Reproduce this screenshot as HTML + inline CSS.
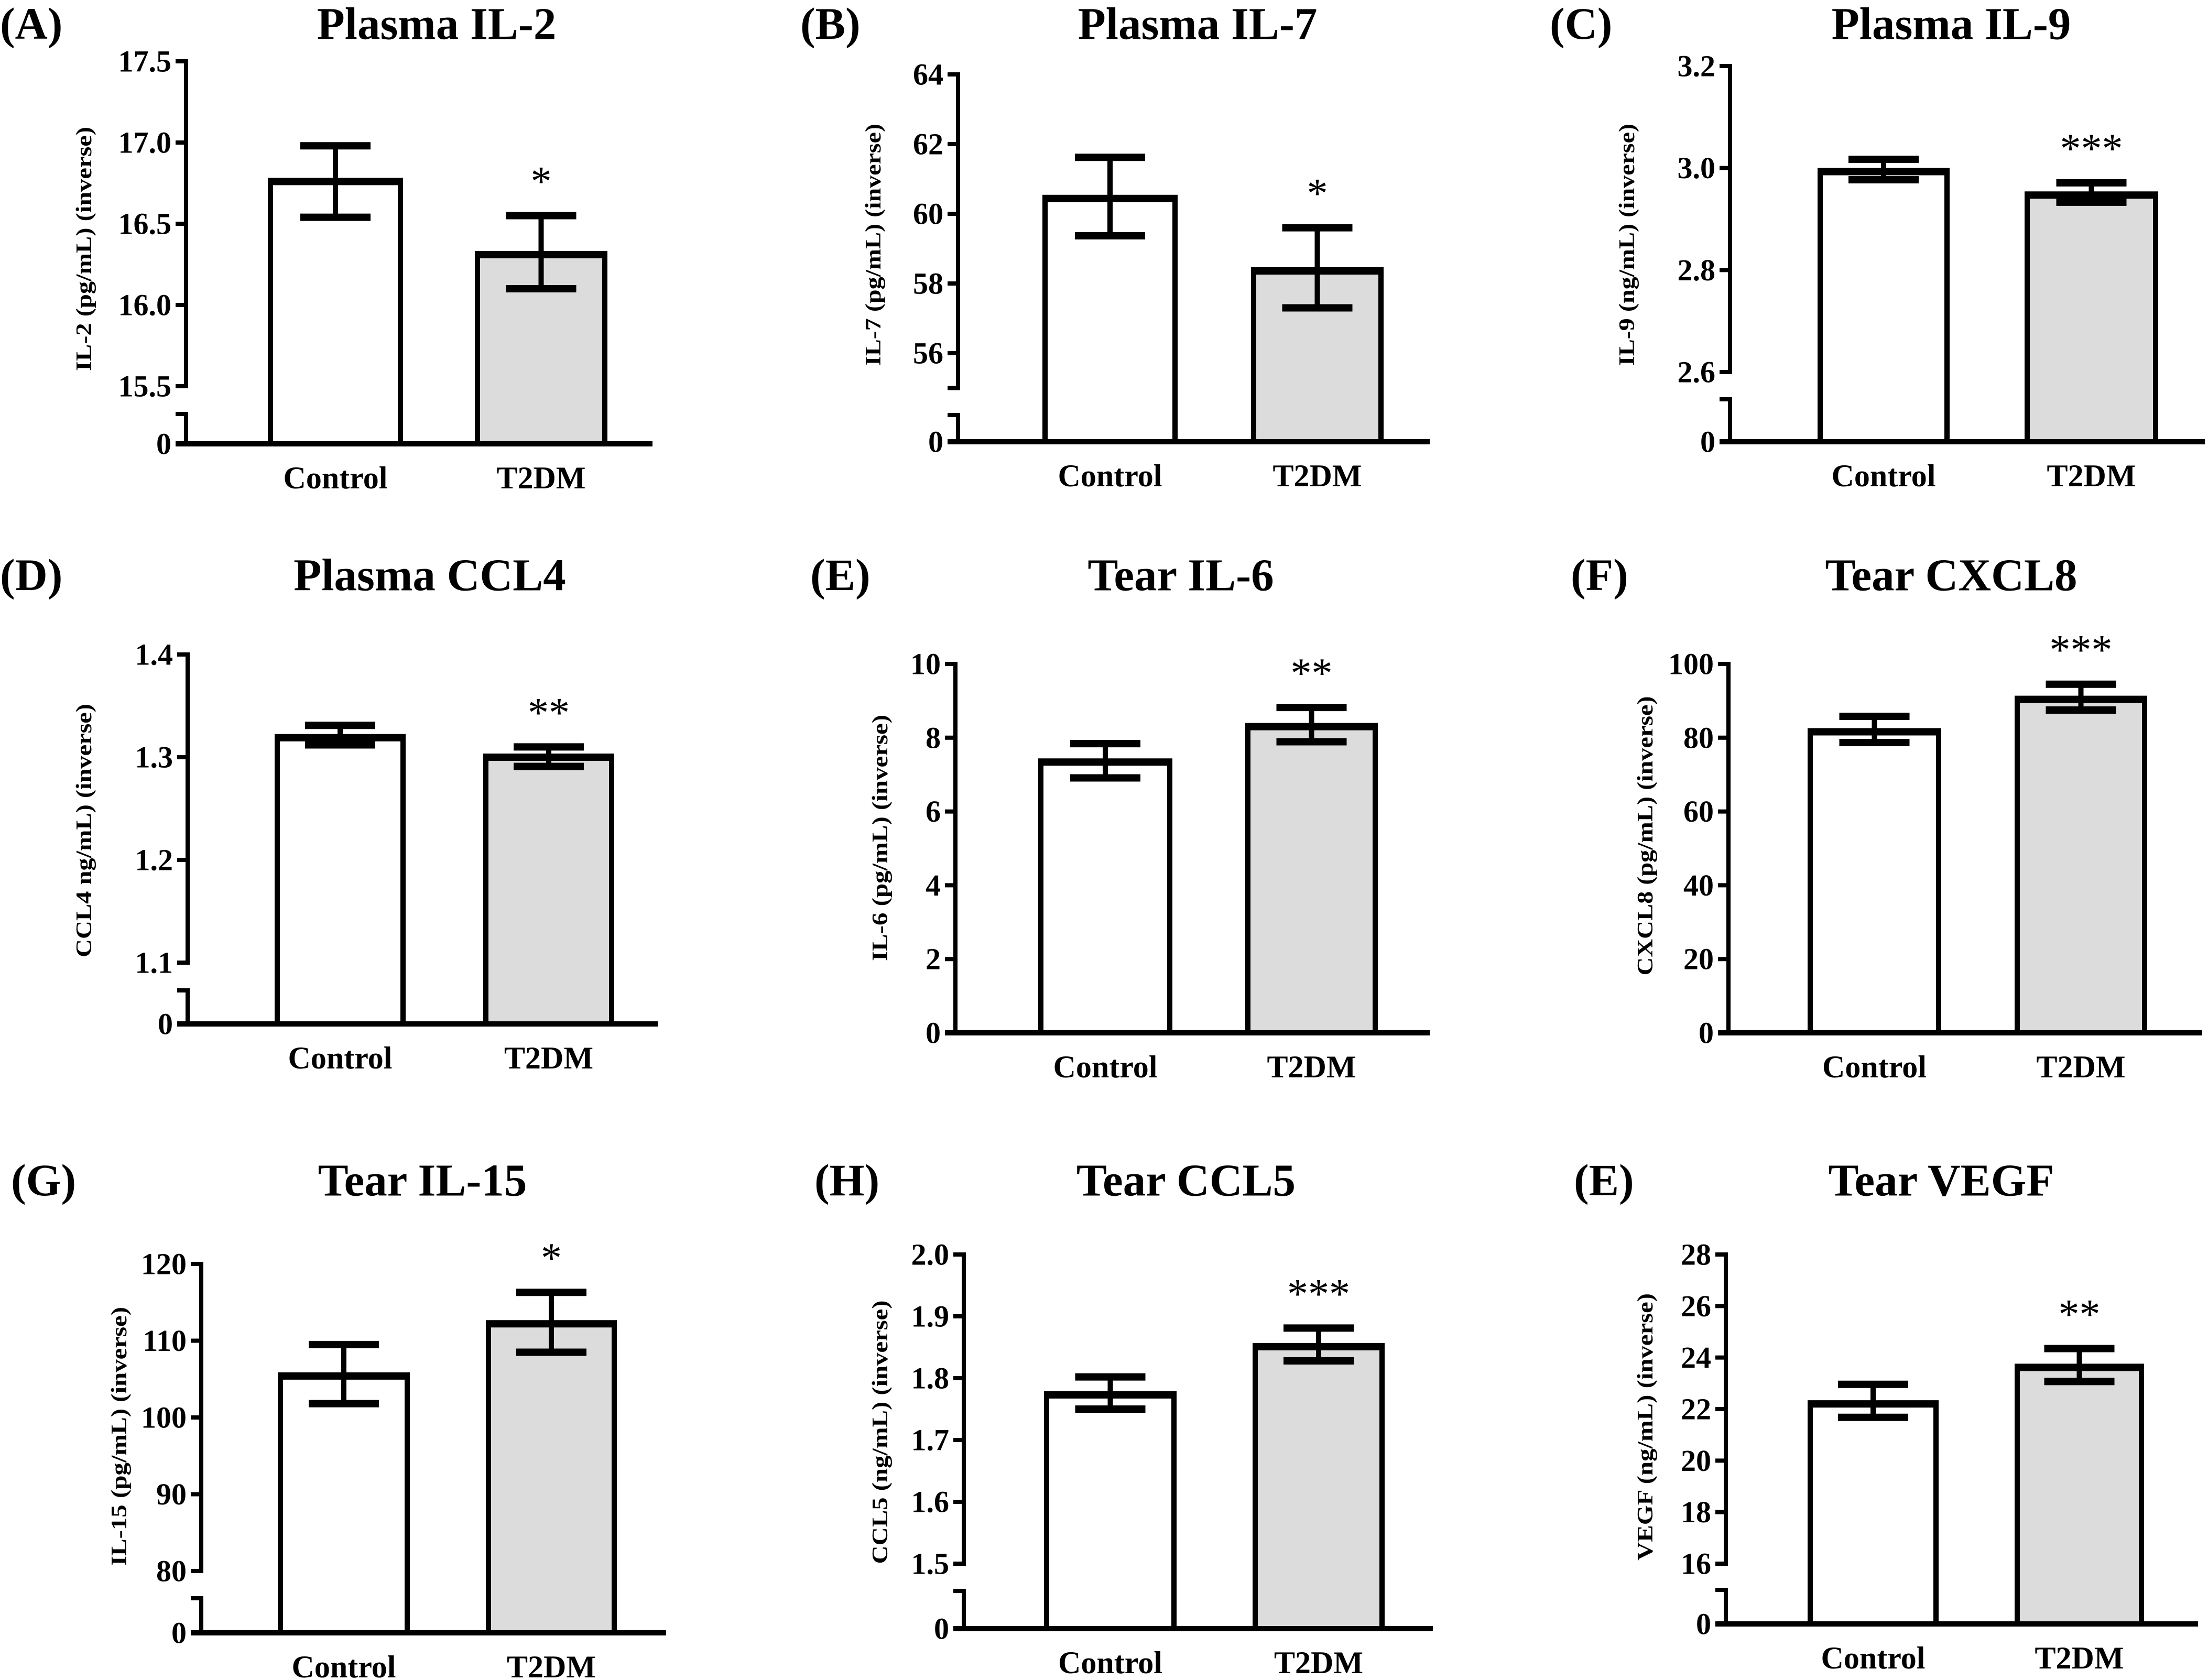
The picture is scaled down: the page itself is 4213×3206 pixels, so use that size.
<!DOCTYPE html>
<html><head><meta charset="utf-8"><style>
html,body{margin:0;padding:0;background:#fff}
svg{display:block}
text{font-family:"Liberation Serif",serif;font-weight:bold;fill:#000}
</style></head><body>
<svg id="fig" width="4213" height="3206" viewBox="0 0 4213 3206" xmlns="http://www.w3.org/2000/svg"></svg>
<script>
const categories = ["Control", "T2DM"];
const panelTags = ["(A)","(B)","(C)","(D)","(E)","(F)","(G)","(H)","(E)"];
const panelTitles = ["Plasma IL-2","Plasma IL-7","Plasma IL-9","Plasma CCL4","Tear IL-6","Tear CXCL8","Tear IL-15","Tear CCL5","Tear VEGF"];
const yTitles = ["IL-2 (pg/mL) (inverse)","IL-7 (pg/mL) (inverse)","IL-9 (ng/mL) (inverse)","CCL4 ng/mL) (inverse)","IL-6 (pg/mL) (inverse)","CXCL8 (pg/mL) (inverse)","IL-15 (pg/mL) (inverse)","CCL5 (ng/mL) (inverse)","VEGF (ng/mL) (inverse)"];
const controlMeans = [16.76, 60.44, 2.993, 1.319, 7.34, 81.6, 105.4, 1.773, 22.2];
const controlHi    = [16.98, 61.62, 3.017, 1.331, 7.84, 85.8, 109.5, 1.802, 22.96];
const controlLo    = [16.54, 59.37, 2.977, 1.312, 6.91, 78.7, 101.8, 1.750, 21.68];
const t2dmMeans    = [16.31, 58.36, 2.947, 1.300, 8.30, 90.4, 112.2, 1.851, 23.62];
const t2dmHi       = [16.55, 59.60, 2.971, 1.310, 8.82, 94.5, 116.3, 1.881, 24.35];
const t2dmLo       = [16.10, 57.30, 2.933, 1.291, 7.89, 87.5, 108.5, 1.828, 23.07];
const significance = ["*","*","***","**","**","***","*","***","**"];
const yTicks = [
  [15.5,16.0,16.5,17.0,17.5],
  [56,58,60,62,64],
  [2.6,2.8,3.0,3.2],
  [1.1,1.2,1.3,1.4],
  [0,2,4,6,8,10],
  [0,20,40,60,80,100],
  [80,90,100,110,120],
  [1.5,1.6,1.7,1.8,1.9,2.0],
  [16,18,20,22,24,26,28]
];
const tickDecimals = [1,0,1,1,0,0,0,1,0];
const axisMinValue = [15.5,55,2.6,1.1,0,0,80,1.5,16];

// layout geometry (pixels), not data
const layout = [
 {ax:355,end:1245,yLo:737,yHi:117,zero:847,brk:790,b:[[511,769],[906,1159]],lx:161,ly:475,ll:466,tx:833,ty:45,gx:0},
 {ax:1828,end:2728,yLo:674,yHi:142,zero:843,brk:792,b:[[1989,2247],[2387,2640]],lx:1667,ly:467,ll:462,tx:2285,ty:45,gx:1527},
 {ax:3301,end:4207,yLo:710,yHi:126,zero:843,brk:762,b:[[3468,3720],[3863,4118]],lx:3105,ly:467,ll:462,tx:3723,ty:45,gx:2957},
 {ax:358,end:1255,yLo:1837,yHi:1249,zero:1954,brk:1890,b:[[524,774],[922,1172]],lx:161,ly:1585,ll:484,tx:820,ty:1097,gx:0},
 {ax:1823,end:2728,yLo:1971,yHi:1267,zero:1971,brk:null,b:[[1981,2237],[2376,2629]],lx:1680,ly:1599,ll:470,tx:2253,ty:1097,gx:1546},
 {ax:3298,end:4202,yLo:1971,yHi:1267,zero:1971,brk:null,b:[[3449,3704],[3844,4097]],lx:3140,ly:1595,ll:533,tx:3723,ty:1097,gx:2997},
 {ax:384,end:1271,yLo:2998,yHi:2412,zero:3116,brk:3050,b:[[530,782],[927,1177]],lx:228,ly:2741,ll:494,tx:806,ty:2252,gx:21},
 {ax:1839,end:2734,yLo:2984,yHi:2394,zero:3108,brk:3036,b:[[1992,2245],[2390,2642]],lx:1680,ly:2733,ll:503,tx:2263,ty:2252,gx:1554},
 {ax:3293,end:4194,yLo:2984,yHi:2394,zero:3099,brk:3034,b:[[3449,3699],[3844,4091]],lx:3140,ly:2723,ll:510,tx:3704,ty:2252,gx:3003}
];

const NS = "http://www.w3.org/2000/svg";
const svg = document.getElementById("fig");
function mk(tag, attrs, parent) {
  const e = document.createElementNS(NS, tag);
  for (const k in attrs) e.setAttribute(k, attrs[k]);
  parent.appendChild(e);
  return e;
}

for (let p = 0; p < 9; p++) {
  const L = layout[p];
  const ticks = yTicks[p];
  const vMin = ticks[0], vMax = ticks[ticks.length - 1];
  const yScale = v => L.yLo + (v - vMin) * (L.yHi - L.yLo) / (vMax - vMin);

  const g = mk("g", {}, svg);
  
  

  const tag = mk("text", {x: L.gx, y: L.ty, "font-size": 86, "dominant-baseline": "central"}, g);
  tag.textContent = panelTags[p];
  
  

  const title = mk("text", {x: L.tx, y: L.ty, "font-size": 87, "text-anchor": "middle", "dominant-baseline": "central"}, g);
  title.textContent = panelTitles[p];
  
  

  const yt = mk("text", {x: 0, y: 0, "font-size": 42, "text-anchor": "middle", "dominant-baseline": "central",
    textLength: L.ll, lengthAdjust: "spacingAndGlyphs",
    transform: "translate(" + L.lx + "," + L.ly + ") rotate(-90)"}, g);
  yt.textContent = yTitles[p];
  
  

  const means = [controlMeans[p], t2dmMeans[p]];
  const his = [controlHi[p], t2dmHi[p]];
  const los = [controlLo[p], t2dmLo[p]];
  for (let i = 0; i < 2; i++) {
    const [x0, x1] = L.b[i];
    const yTop = yScale(means[i]);
    const bar = mk("rect", {x: x0 + 5, y: yTop, width: x1 - x0 - 10, height: L.zero - yTop,
      fill: i === 0 ? "#ffffff" : "#dcdcdc", stroke: "#000", "stroke-width": 10}, g);
    
    
    mk("line", {x1: x0, x2: x1, y1: yTop, y2: yTop, stroke: "#000", "stroke-width": 14}, g);

    const cx = (x0 + x1) / 2;
    const eg = mk("g", {stroke: "#000"}, g);
    
    
    mk("line", {x1: cx, x2: cx, y1: yScale(his[i]), y2: yScale(los[i]), "stroke-width": 10}, eg);
    mk("line", {x1: cx - 67, x2: cx + 67, y1: yScale(his[i]), y2: yScale(his[i]), "stroke-width": 14}, eg);
    mk("line", {x1: cx - 67, x2: cx + 67, y1: yScale(los[i]), y2: yScale(los[i]), "stroke-width": 14}, eg);

    const cl = mk("text", {x: cx, y: L.zero + 65, "font-size": 60, "text-anchor": "middle", "dominant-baseline": "central"}, g);
    cl.textContent = categories[i];
    
    

    if (i === 1) {
      const st = mk("text", {x: cx, y: yScale(his[i]) - 65, "font-size": 80, "text-anchor": "middle", "dominant-baseline": "central", style: "font-weight:normal"}, g);
      st.textContent = significance[p];
      
      
    }
  }

  const ax = mk("g", {stroke: "#000", "stroke-width": 8}, g);
  
  
  mk("line", {x1: L.ax, x2: L.ax, y1: yScale(vMax) - 4, y2: L.brk === null ? L.zero : yScale(axisMinValue[p]) + 4}, ax);
  if (L.brk !== null) {
    mk("line", {x1: L.ax, x2: L.ax, y1: L.brk - 4, y2: L.zero}, ax);
    mk("line", {x1: L.ax - 20, x2: L.ax, y1: L.brk, y2: L.brk}, ax);
    if (axisMinValue[p] < vMin) {
      const ym = yScale(axisMinValue[p]);
      mk("line", {x1: L.ax - 20, x2: L.ax, y1: ym, y2: ym}, ax);
    }
  }
  const xa = mk("line", {x1: L.ax - 20, x2: L.end, y1: L.zero, y2: L.zero, stroke: "#000", "stroke-width": 10}, g);
  
  

  for (const t of ticks) {
    const y = yScale(t);
    mk("line", {x1: L.ax - 20, x2: L.ax, y1: y, y2: y}, ax);
    const tl = mk("text", {x: L.ax - 28, y: y, "font-size": 58, "text-anchor": "end", "dominant-baseline": "central", stroke: "none"}, g);
    tl.textContent = t.toFixed(tickDecimals[p]);
    
    
  }
  if (L.brk !== null) {
    const z = mk("text", {x: L.ax - 28, y: L.zero, "font-size": 58, "text-anchor": "end", "dominant-baseline": "central"}, g);
    z.textContent = "0";
    
    
  }
}
</script>
</body></html>
